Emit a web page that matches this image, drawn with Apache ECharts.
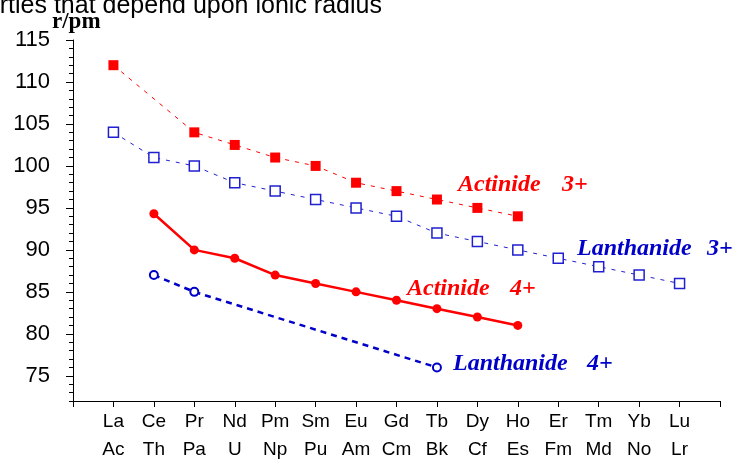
<!DOCTYPE html>
<html>
<head>
<meta charset="utf-8">
<script src="https://cdn.jsdelivr.net/npm/echarts@6.0.0/dist/echarts.min.js"></script>
<style>
  html, body { margin: 0; padding: 0; background: #fff; }
  #chart { width: 736px; height: 460px; }
</style>
</head>
<body>
<div id="chart"></div>
<script>
// Element symbols for each position along the series (lanthanide row, actinide row)
const lanthanides = ['La', 'Ce', 'Pr', 'Nd', 'Pm', 'Sm', 'Eu', 'Gd', 'Tb', 'Dy', 'Ho', 'Er', 'Tm', 'Yb', 'Lu'];
const actinides   = ['Ac', 'Th', 'Pa', 'U', 'Np', 'Pu', 'Am', 'Cm', 'Bk', 'Cf', 'Es', 'Fm', 'Md', 'No', 'Lr'];

// Ionic radii in pm (null = no value for that element)
const actinide3   = [112, null, 104, 102.5, 101, 100, 98, 97, 96, 95, 94, null, null, null, null];
const lanthanide3 = [104, 101, 100, 98, 97, 96, 95, 94, 92, 91, 90, 89, 88, 87, 86];
const actinide4   = [null, 94.3, 90, 89, 87, 86, 85, 84, 83, 82, 81, null, null, null, null];
const lanthanide4 = [null, 87, 85, null, null, null, null, null, 76, null, null, null, null, null, null];

// Y axis tick labels
const yTickValues = [75, 80, 85, 90, 95, 100, 105, 110, 115];

const toPoints = vals => vals.map((v, i) => [i + 1, v]).filter(p => p[1] !== null);

const RED = '#ff0000';
const BLUE = '#2020d0';
const DARK_BLUE = '#0000c8';

const chart = echarts.init(document.getElementById('chart'), null, { renderer: 'canvas' });

// Italic series name written next to each curve
function tag(x, y, text, color) {
  return {
    type: 'text', left: x, top: y,
    style: { text: text, fill: color, font: 'italic bold 24px "Liberation Serif", serif' }
  };
}

chart.setOption({
  animation: false,
  backgroundColor: '#fff',
  grid: { left: 73, right: 16, top: 40, bottom: 59, containLabel: false, outerBoundsMode: 'none' },
  xAxis: {
    type: 'value', min: 0, max: 16, interval: 1,
    axisLine: { show: true, lineStyle: { color: '#000', width: 1 } },
    axisTick: { show: true, length: 6, lineStyle: { color: '#000' } },
    splitLine: { show: false },
    axisLabel: {
      color: '#000',
      fontFamily: '"Liberation Sans", Arial, sans-serif',
      fontSize: 19,
      lineHeight: 28,
      margin: 7,
      formatter: v => (v >= 1 && v <= lanthanides.length) ? lanthanides[v - 1] + '\n' + actinides[v - 1] : ''
    }
  },
  yAxis: [
    {
      type: 'value', min: 72, max: 115,
      axisLine: { show: true, lineStyle: { color: '#000', width: 1 } },
      axisTick: { show: true, length: 7, customValues: yTickValues, lineStyle: { color: '#000' } },
      splitLine: { show: false },
      axisLabel: {
        color: '#000',
        fontFamily: '"Liberation Sans", Arial, sans-serif',
        fontSize: 22,
        margin: 23,
        customValues: yTickValues
      }
    },
    {
      // minor ticks, one per pm
      type: 'value', min: 72, max: 115, interval: 1, position: 'left',
      axisLine: { show: false },
      axisTick: { show: true, length: 4, lineStyle: { color: '#000' } },
      axisLabel: { show: false },
      splitLine: { show: false }
    }
  ],
  series: [
    {
      name: 'Actinide 3+', type: 'line', data: toPoints(actinide3),
      symbol: 'rect', symbolSize: 10,
      itemStyle: { color: RED },
      lineStyle: { color: RED, width: 1, type: [4, 6] }
    },
    {
      name: 'Lanthanide 3+', type: 'line', data: toPoints(lanthanide3),
      symbol: 'rect', symbolSize: 10,
      itemStyle: { color: '#fff', borderColor: BLUE, borderWidth: 1.5 },
      lineStyle: { color: BLUE, width: 1, type: [4, 6] }
    },
    {
      name: 'Actinide 4+', type: 'line', data: toPoints(actinide4),
      symbol: 'circle', symbolSize: 9,
      itemStyle: { color: RED },
      lineStyle: { color: RED, width: 2.5, type: 'solid' }
    },
    {
      name: 'Lanthanide 4+', type: 'line', data: toPoints(lanthanide4),
      symbol: 'circle', symbolSize: 8,
      itemStyle: { color: '#fff', borderColor: DARK_BLUE, borderWidth: 2 },
      lineStyle: { color: DARK_BLUE, width: 2.5, type: [6, 5] }
    }
  ],
  graphic: [
    {
      type: 'text', left: -67, top: -6,
      style: { text: 'Properties that depend upon ionic radius', fill: '#000',
               font: '25px "Liberation Sans", Arial, sans-serif' }
    },
    {
      type: 'text', left: 52, top: 11,
      style: { text: 'r/pm', fill: '#000',
               font: 'bold 23px "Liberation Serif", "Times New Roman", serif' }
    },
    tag(458, 173, 'Actinide', RED),
    tag(562, 173, '3+', RED),
    tag(577, 237, 'Lanthanide', DARK_BLUE),
    tag(707, 237, '3+', DARK_BLUE),
    tag(407, 277, 'Actinide', RED),
    tag(510, 277, '4+', RED),
    tag(453, 352, 'Lanthanide', DARK_BLUE),
    tag(587, 352, '4+', DARK_BLUE)
  ]
});
</script>
</body>
</html>
